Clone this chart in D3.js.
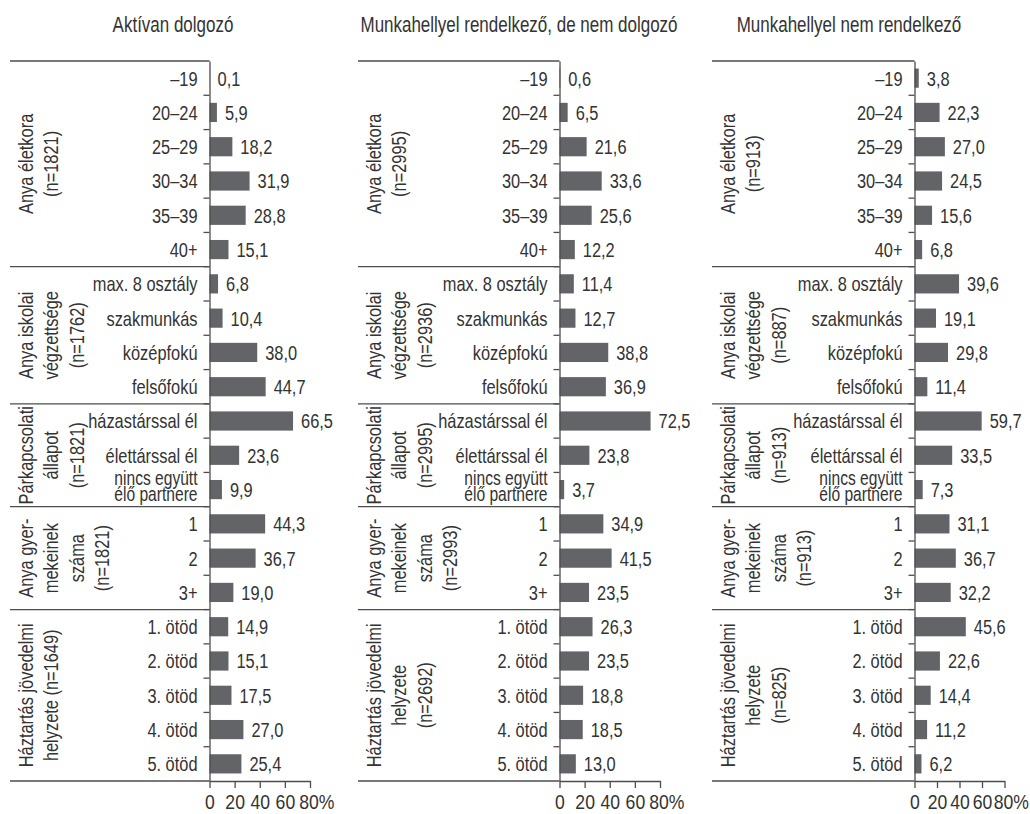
<!DOCTYPE html>
<html><head><meta charset="utf-8">
<script src="https://cdn.jsdelivr.net/npm/d3@7"></script>
<style>
html,body{margin:0;padding:0;background:#fff;}
svg text{font-family:"Liberation Sans",Arial,sans-serif;fill:#333;}
</style></head>
<body><svg id="c" width="1030" height="814"></svg>
<script>
// ---- data ----
const panelTitles = ["Aktívan dolgozó", "Munkahellyel rendelkező, de nem dolgozó", "Munkahellyel nem rendelkező"];
const ageCats = ["–19", "20–24", "25–29", "30–34", "35–39", "40+"];
const eduCats = ["max. 8 osztály", "szakmunkás", "középfokú", "felsőfokú"];
const partnerCats = ["házastárssal él", "élettárssal él", "nincs együtt\nélő partnere"];
const childCats = ["1", "2", "3+"];
const incomeCats = ["1. ötöd", "2. ötöd", "3. ötöd", "4. ötöd", "5. ötöd"];
const activeValues = [0.1, 5.9, 18.2, 31.9, 28.8, 15.1, 6.8, 10.4, 38.0, 44.7, 66.5, 23.6, 9.9, 44.3, 36.7, 19.0, 14.9, 15.1, 17.5, 27.0, 25.4];
const notWorkingValues = [0.6, 6.5, 21.6, 33.6, 25.6, 12.2, 11.4, 12.7, 38.8, 36.9, 72.5, 23.8, 3.7, 34.9, 41.5, 23.5, 26.3, 23.5, 18.8, 18.5, 13.0];
const noJobValues = [3.8, 22.3, 27.0, 24.5, 15.6, 6.8, 39.6, 19.1, 29.8, 11.4, 59.7, 33.5, 7.3, 31.1, 36.7, 32.2, 45.6, 22.6, 14.4, 11.2, 6.2];
const activeGroupLabels = [["Anya életkora", "(n=1821)"], ["Anya iskolai", "végzettsége", "(n=1762)"], ["Párkapcsolati", "állapot", "(n=1821)"], ["Anya gyer-", "mekeinek", "száma", "(n=1821)"], ["Háztartás jövedelmi", "helyzete (n=1649)"]];
const notWorkingGroupLabels = [["Anya életkora", "(n=2995)"], ["Anya iskolai", "végzettsége", "(n=2936)"], ["Párkapcsolati", "állapot", "(n=2995)"], ["Anya gyer-", "mekeinek", "száma", "(n=2993)"], ["Háztartás jövedelmi", "helyzete", "(n=2692)"]];
const noJobGroupLabels = [["Anya életkora", "(n=913)"], ["Anya iskolai", "végzettsége", "(n=887)"], ["Párkapcsolati", "állapot", "(n=913)"], ["Anya gyer-", "mekeinek", "száma", "(n=913)"], ["Háztartás jövedelmi", "helyzete", "(n=825)"]];
const xTicks = [0, 20, 40, 60, 80];
const xMax = 80;

// ---- layout ----
const groups = [ageCats, eduCats, partnerCats, childCats, incomeCats];
const categories = groups.flat();
const groupSizes = groups.map(g => g.length);
const panels = [
  {title: panelTitles[0], values: activeValues, labels: activeGroupLabels, titleX: 173, left: 10, axisX: 209.5, width: 100.5},
  {title: panelTitles[1], values: notWorkingValues, labels: notWorkingGroupLabels, titleX: 519, left: 358, axisX: 559.5, width: 100.5},
  {title: panelTitles[2], values: noJobValues, labels: noJobGroupLabels, titleX: 849, left: 712, axisX: 914.5, width: 90}
];
const plotTop = 61, plotBottom = 781;
const lineColor = "#4d4d4d";
const barColor = "#636467";
const fs = 20.5;
const K = 0.8; // horizontal condensing of the text face
const fmt = v => d3.format(".1f")(v).replace(".", ",");

function condense(sel, k) {
  sel.each(function() {
    const t = d3.select(this);
    const x = +(t.attr("x") || 0);
    t.attr("x", x / k);
    t.selectAll("tspan").each(function() {
      const ts = d3.select(this);
      if (ts.attr("x") !== null) ts.attr("x", +ts.attr("x") / k);
    });
    const tr = t.attr("transform") || "";
    t.attr("transform", (tr + ` scale(${k},1)`).trim());
  });
}

const svg = d3.select("#c");
const y = d3.scaleBand().domain(d3.range(categories.length)).range([plotTop, plotBottom]).paddingInner(0.44).paddingOuter(0.22);
const step = y.step();
const boundary = i => plotTop + i * step;

panels.forEach(p => {
  const g = svg.append("g");
  const x = d3.scaleLinear().domain([0, xMax]).range([p.axisX, p.axisX + p.width]);

  const title = g.append("text").attr("x", p.titleX).attr("y", 32).attr("text-anchor", "middle")
    .style("font-size", "21.5px").text(p.title);
  condense(title, 0.79);

  let acc = 0;
  const groupStarts = [];
  groupSizes.forEach(n => { groupStarts.push(acc); acc += n; });
  groupStarts.forEach(s => {
    g.append("line").attr("x1", p.left).attr("x2", p.axisX).attr("y1", boundary(s)).attr("y2", boundary(s))
      .attr("stroke", lineColor).attr("stroke-width", 1.3);
  });
  g.append("line").attr("x1", p.left).attr("x2", p.axisX).attr("y1", plotBottom).attr("y2", plotBottom)
    .attr("stroke", lineColor).attr("stroke-width", 1.3);

  d3.range(1, categories.length).forEach(i => {
    g.append("line").attr("x1", p.axisX - 6).attr("x2", p.axisX).attr("y1", boundary(i)).attr("y2", boundary(i))
      .attr("stroke", lineColor).attr("stroke-width", 1.3);
  });

  g.selectAll("rect.bar").data(p.values).join("rect").attr("class", "bar")
    .attr("x", p.axisX).attr("y", (d, i) => y(i)).attr("height", y.bandwidth())
    .attr("width", d => x(d) - x(0)).attr("fill", barColor);

  const vals = g.selectAll("text.val").data(p.values).join("text").attr("class", "val")
    .attr("x", d => x(d) + 8).attr("y", (d, i) => y(i) + y.bandwidth() / 2)
    .attr("dy", "0.36em").style("font-size", fs + "px").text(d => fmt(d));
  condense(vals, K);

  const ya = g.append("g").attr("transform", `translate(${p.axisX},0)`)
    .call(d3.axisLeft(y).tickSize(0).tickSizeOuter(0).tickPadding(12).tickFormat(i => categories[i]));
  ya.select(".domain").attr("stroke", lineColor).attr("stroke-width", 1.3);
  const yt = ya.selectAll("text").style("font-size", fs + "px").attr("fill", null).attr("dy", "0.36em").each(function(i) {
    const lines = categories[i].split("\n");
    if (lines.length > 1) {
      const t = d3.select(this).text(null).attr("dy", null).style("font-size", "19.5px");
      lines.forEach((ln, k) => {
        t.append("tspan").attr("x", -12).attr("dy", k === 0 ? "-0.25em" : "0.83em").text(ln);
      });
    }
  });
  condense(yt, K);

  const xa = g.append("g").attr("transform", `translate(0,${plotBottom})`)
    .call(d3.axisBottom(x).tickValues(xTicks).tickSize(7).tickSizeOuter(0).tickPadding(7)
      .tickFormat(d => d === xMax ? d + "%" : d));
  xa.select(".domain").attr("stroke", lineColor).attr("stroke-width", 1.3);
  xa.selectAll("line").attr("stroke", lineColor).attr("stroke-width", 1.3);
  const xt = xa.selectAll("text").style("font-size", "20px").attr("fill", null)
    .attr("dx", d => d === xMax ? "0.36em" : 0);
  condense(xt, 0.88);

  groupStarts.forEach((s, gi) => {
    const cy = (boundary(s) + boundary(s + groupSizes[gi])) / 2;
    p.labels[gi].forEach((ln, k) => {
      const cx = p.left + 15.5 + k * 25.5;
      const t = g.append("text").attr("transform", `translate(${cx},${cy}) rotate(-90)`)
        .attr("text-anchor", "middle").attr("dy", "0.36em").style("font-size", fs + "px").text(ln);
      condense(t, K);
    });
  });
});
</script></body></html>
